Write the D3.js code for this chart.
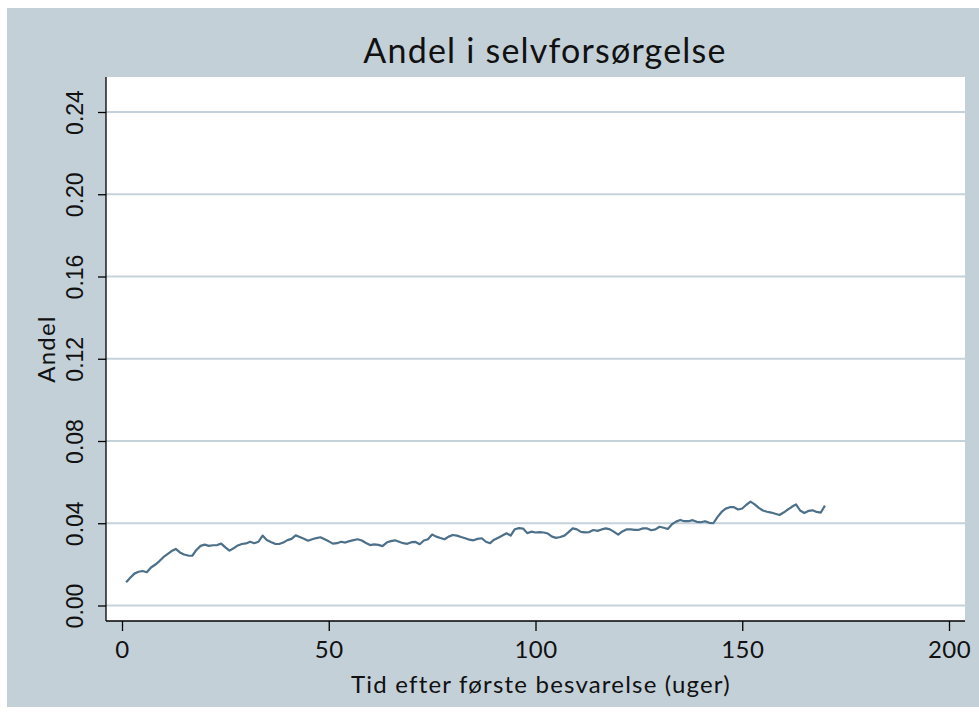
<!DOCTYPE html>
<meta charset="utf-8">
<html>
<head>
  <style>
  body { margin: 0; background: #fff; }
  text.title { font-family: Lato, "Open Sans", sans-serif; font-size: 34px; letter-spacing: 1.2px; fill: #111; }
  text.axis-title { font-family: Lato, "Open Sans", sans-serif; font-size: 24px; letter-spacing: 1.2px; fill: #111; }
  .xaxis text { font-family: Lato, "Open Sans", sans-serif; font-size: 24px; letter-spacing: 0.5px; fill: #111; }
  .yaxis text { font-family: "Liberation Sans", Arial, sans-serif; font-size: 23px; fill: #111; }
  </style>
  <script src="https://cdn.jsdelivr.net/npm/d3@7"></script>
</head>
<body>
  <div id="chart"></div>
  <script type="text/javascript">
  var width = 979, height = 713;

  // Plot area (white panel) inside the grey graph region
  var plot = { left: 106, right: 965, top: 77, bottom: 621 };

  // Weeks after first response
  var weeks = d3.range(1, 171);

  // Share in self-support, one value per week
  var andel = [
    0.0113, 0.0135, 0.0155, 0.0164, 0.0168, 0.0162, 0.0185, 0.0198, 0.0215, 0.0235,
    0.0250, 0.0265, 0.0275, 0.0258, 0.0248, 0.0243, 0.0242, 0.0270, 0.0290, 0.0296,
    0.0290, 0.0293, 0.0294, 0.0301, 0.0283, 0.0267, 0.0278, 0.0292, 0.0299, 0.0302,
    0.0310, 0.0303, 0.0310, 0.0340, 0.0319, 0.0309, 0.0300, 0.0299, 0.0306, 0.0318,
    0.0324, 0.0341, 0.0333, 0.0325, 0.0315, 0.0322, 0.0328, 0.0332, 0.0322, 0.0312,
    0.0301, 0.0303, 0.0310, 0.0306, 0.0313, 0.0318, 0.0322, 0.0316, 0.0304, 0.0294,
    0.0297, 0.0295, 0.0289, 0.0306, 0.0313, 0.0317, 0.0310, 0.0303, 0.0300, 0.0308,
    0.0309, 0.0298, 0.0316, 0.0322, 0.0345, 0.0335, 0.0328, 0.0322, 0.0335, 0.0343,
    0.0340, 0.0333, 0.0327, 0.0320, 0.0317, 0.0324, 0.0327, 0.0310, 0.0303, 0.0320,
    0.0330, 0.0340, 0.0351, 0.0340, 0.0371, 0.0376, 0.0374, 0.0352, 0.0359, 0.0355,
    0.0357, 0.0355, 0.0350, 0.0335, 0.0329, 0.0333, 0.0340, 0.0357, 0.0375, 0.0370,
    0.0358, 0.0356, 0.0357, 0.0367, 0.0363, 0.0370, 0.0375, 0.0370, 0.0358, 0.0345,
    0.0360, 0.0370, 0.0370, 0.0368, 0.0368, 0.0375, 0.0375, 0.0366, 0.0370, 0.0383,
    0.0378, 0.0372, 0.0395, 0.0408, 0.0416, 0.0410, 0.0410, 0.0415, 0.0407, 0.0405,
    0.0410, 0.0402, 0.0400, 0.0430, 0.0455, 0.0471, 0.0478, 0.0478, 0.0467, 0.0472,
    0.0490, 0.0505, 0.0492, 0.0475, 0.0462, 0.0456, 0.0452, 0.0446, 0.0440, 0.0452,
    0.0466, 0.0480, 0.0492, 0.0462, 0.0450, 0.0460, 0.0463, 0.0455, 0.0452, 0.0486
  ];

  // Axis ticks and labels
  var xTicks = [0, 50, 100, 150, 200];
  var yTicks = [0, 0.04, 0.08, 0.12, 0.16, 0.20, 0.24];
  var titleText = "Andel i selvforsørgelse";
  var xTitle = "Tid efter første besvarelse (uger)";
  var yTitle = "Andel";

  var bgColor = "#c3d0d8";
  var gridColor = "#c6d2da";
  var lineColor = "#4c7089";

  var svg = d3.select("#chart").append("svg")
    .attr("width", width)
    .attr("height", height);

  // Grey graph region and white plot panel
  svg.append("rect")
    .attr("x", 7).attr("y", 8)
    .attr("width", width - 7).attr("height", 699)
    .style("fill", bgColor);

  svg.append("rect")
    .attr("x", plot.left).attr("y", plot.top)
    .attr("width", plot.right - plot.left).attr("height", plot.bottom - plot.top)
    .style("fill", "#fff");

  var x = d3.scaleLinear().domain([0, 200]).range([122, 949]);
  var y = d3.scaleLinear().domain([0, 0.24]).range([605.5, 112]);

  // Horizontal grid lines
  svg.selectAll(".grid")
    .data(yTicks)
    .enter().append("line")
    .attr("class", "grid")
    .attr("x1", plot.left).attr("x2", plot.right)
    .attr("y1", function(d) { return y(d); })
    .attr("y2", function(d) { return y(d); })
    .style("stroke", gridColor)
    .style("stroke-width", 2);

  // X axis
  var xAxis = svg.append("g")
    .attr("class", "xaxis")
    .attr("transform", "translate(0," + plot.bottom + ")")
    .call(d3.axisBottom(x).tickValues(xTicks).tickSize(10).tickPadding(10).tickSizeOuter(0));
  xAxis.select(".domain").remove();
  xAxis.append("line")
    .attr("x1", plot.left).attr("x2", plot.right)
    .attr("y1", 0).attr("y2", 0)
    .style("stroke", "#000").style("stroke-width", 1.3);
  xAxis.selectAll(".tick line").style("stroke-width", 1.3);

  // Y axis, rotated labels
  var yAxis = svg.append("g")
    .attr("class", "yaxis")
    .attr("transform", "translate(" + plot.left + ",0)")
    .call(d3.axisLeft(y).tickValues(yTicks).tickFormat(d3.format(".2f")).tickSize(8).tickSizeOuter(0));
  yAxis.select(".domain").remove();
  yAxis.append("line")
    .attr("x1", 0).attr("x2", 0)
    .attr("y1", plot.top).attr("y2", plot.bottom)
    .style("stroke", "#000").style("stroke-width", 1.3);
  yAxis.selectAll(".tick line").style("stroke-width", 1.3);
  yAxis.selectAll(".tick text")
    .attr("x", 0).attr("dy", 0)
    .attr("transform", "translate(-23,0) rotate(-90)")
    .style("text-anchor", "middle");

  // The series
  var line = d3.line()
    .x(function(d, i) { return x(weeks[i]); })
    .y(function(d) { return y(d); });

  svg.append("path")
    .datum(andel)
    .attr("d", line)
    .style("fill", "none")
    .style("stroke", lineColor)
    .style("stroke-width", 2.2)
    .style("stroke-linejoin", "round");

  // Titles
  svg.append("text")
    .attr("class", "title")
    .attr("x", 545).attr("y", 63)
    .style("text-anchor", "middle")
    .text(titleText);

  svg.append("text")
    .attr("class", "axis-title")
    .attr("x", 541).attr("y", 693)
    .style("text-anchor", "middle")
    .text(xTitle);

  svg.append("text")
    .attr("class", "axis-title")
    .attr("transform", "translate(55," + ((plot.top + plot.bottom) / 2) + ") rotate(-90)")
    .style("text-anchor", "middle")
    .text(yTitle);
  </script>
</body>
</html>
